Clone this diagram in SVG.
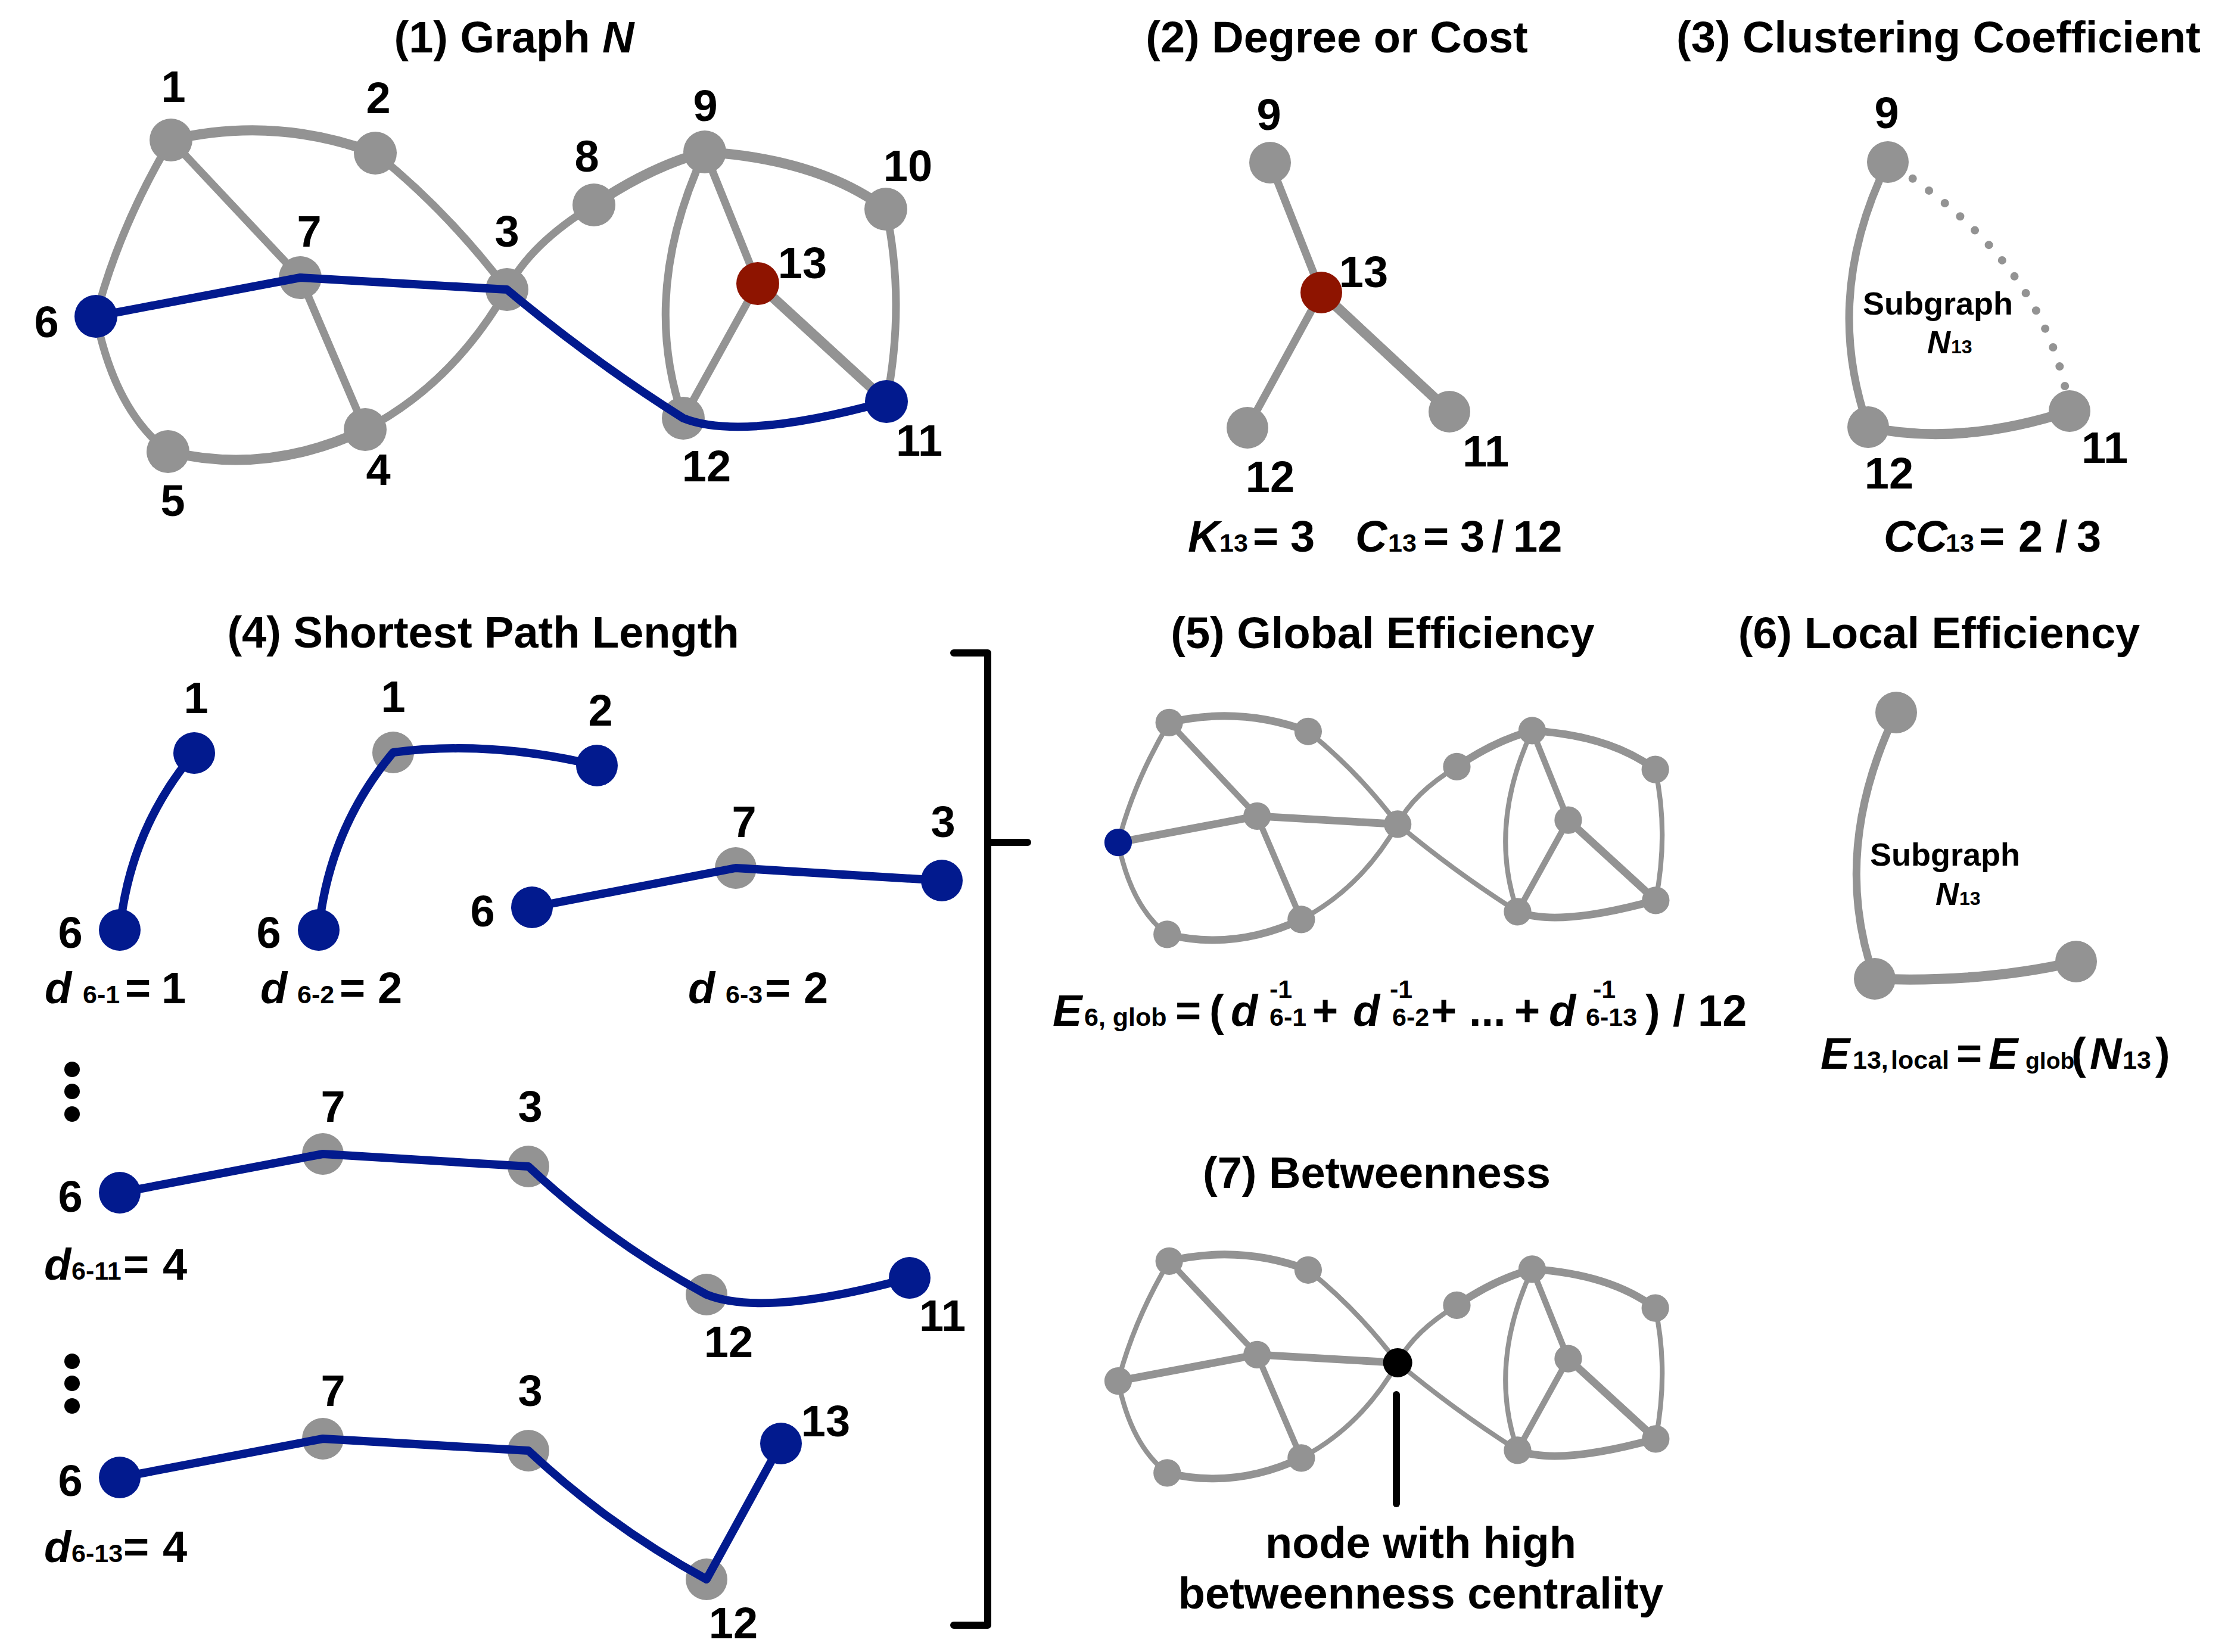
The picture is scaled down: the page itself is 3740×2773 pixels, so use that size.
<svg xmlns="http://www.w3.org/2000/svg" width="3740" height="2773" viewBox="0 0 3740 2773">
<style>
.t{font-family:"Liberation Sans",Arial,Helvetica,sans-serif;font-weight:bold;fill:#000}
.ttl{font-size:74px;text-anchor:middle}
.lbl{font-size:74px;text-anchor:middle}
.f{font-size:74px}
.s{font-size:43px}
.sg{font-size:54px}
.it{font-style:italic}
.e{fill:none;stroke:#939393;stroke-linecap:round}
.w1{stroke-width:13}
.w2{stroke-width:17}
.v1{stroke-width:12}
.v2{stroke-width:15}
.v3{stroke-width:19}
.bp{fill:none;stroke:#021A8E;stroke-width:14;stroke-linejoin:round;stroke-linecap:round}
.g{fill:#939393}
.b{fill:#021A8E}
.r{fill:#8E1400}
.k{fill:#000}
.br{fill:none;stroke:#000;stroke-width:12;stroke-linecap:round;stroke-linejoin:round}
</style>
<defs>
<g id="sg-edges" class="e">
<path class="v3" d="M287,235 Q461.5,194 630,257"/>
<path class="v1" d="M630,257 Q751.5,354.5 851,486"/>
<path class="v1" d="M287,235 Q200,381 161,531"/>
<path class="v2" d="M287,235 L504,466"/>
<path class="v2" d="M504,466 L613,721"/>
<path class="v1" d="M161,531 Q192.5,689.5 282,758"/>
<path class="v3" d="M282,758 Q448.5,798.5 613,721"/>
<path class="v1" d="M613,721 Q760,644.5 851,486"/>
<path class="v1" d="M851,486 Q890,409 997,344"/>
<path class="v3" d="M997,344 Q1090,280.5 1183,255"/>
<path class="v3" d="M1183,255 Q1375,267 1487,351"/>
<path class="v1" d="M1487,351 Q1520.5,507.5 1488,674"/>
<path class="v1" d="M1183,255 Q1073,491.5 1147,702"/>
<path class="v2" d="M1183,255 L1272,476"/>
<path class="v2" d="M1272,476 L1147,702"/>
<path class="v3" d="M1272,476 L1488,674"/>
<path class="v3" d="M161,531 L504,466"/>
<path class="v3" d="M504,466 L851,486"/>
<path class="v1" d="M851,486 Q992,604 1147,702"/>
<path class="v3" d="M1147,702 Q1245,741 1488,674"/>
</g>
</defs>
<rect width="3740" height="2773" fill="#fff"/>

<!-- Panel 1 -->
<text class="t ttl" x="863" y="88">(1) Graph <tspan class="it">N</tspan></text>
<g id="p1-edges" class="e">
<path class="w2" d="M287,235 Q461.5,194 630,257"/>
<path class="w1" d="M630,257 Q751.5,354.5 851,486"/>
<path class="w1" d="M287,235 Q200,381 161,531"/>
<path class="w1" d="M287,235 L504,466"/>
<path class="w1" d="M504,466 L613,721"/>
<path class="w1" d="M161,531 Q192.5,689.5 282,758"/>
<path class="w2" d="M282,758 Q448.5,798.5 613,721"/>
<path class="w1" d="M613,721 Q760,644.5 851,486"/>
<path class="w1" d="M851,486 Q890,409 997,344"/>
<path class="w2" d="M997,344 Q1090,280.5 1183,255"/>
<path class="w2" d="M1183,255 Q1375,267 1487,351"/>
<path class="w1" d="M1487,351 Q1520.5,507.5 1488,674"/>
<path class="w1" d="M1183,255 Q1073,491.5 1147,702"/>
<path class="w1" d="M1183,255 L1272,476"/>
<path class="w1" d="M1272,476 L1147,702"/>
<path class="w2" d="M1272,476 L1488,674"/>
</g>
<g id="p1-n1"><circle class="g" cx="287" cy="235" r="36"/><text class="t lbl" x="291" y="171">1</text></g>
<g id="p1-n2"><circle class="g" cx="630" cy="257" r="36"/><text class="t lbl" x="635" y="190">2</text></g>
<g id="p1-n3"><circle class="g" cx="851" cy="486" r="36"/><text class="t lbl" x="851" y="414">3</text></g>
<g id="p1-n4"><circle class="g" cx="613" cy="721" r="36"/><text class="t lbl" x="635" y="814">4</text></g>
<g id="p1-n5"><circle class="g" cx="282" cy="758" r="36"/><text class="t lbl" x="290" y="866">5</text></g>
<g id="p1-n7"><circle class="g" cx="504" cy="466" r="36"/><text class="t lbl" x="519" y="414">7</text></g>
<g id="p1-n8"><circle class="g" cx="997" cy="344" r="36"/><text class="t lbl" x="985" y="288">8</text></g>
<g id="p1-n9"><circle class="g" cx="1183" cy="255" r="36"/><text class="t lbl" x="1184" y="203">9</text></g>
<g id="p1-n10"><circle class="g" cx="1487" cy="351" r="36"/><text class="t lbl" x="1524" y="304">10</text></g>
<g id="p1-n12"><circle class="g" cx="1147" cy="702" r="36"/><text class="t lbl" x="1186" y="808">12</text></g>
<g id="p1-path" class="bp"><path d="M161,531 L504,466 L851,486 Q992,604 1147,702 Q1245,741 1488,674"/></g>
<g id="p1-n6"><circle class="b" cx="161" cy="531" r="36"/><text class="t lbl" x="78" y="566">6</text></g>
<g id="p1-n11"><circle class="b" cx="1488" cy="674" r="36"/><text class="t lbl" x="1543" y="765">11</text></g>
<g id="p1-n13"><circle class="r" cx="1272" cy="476" r="36"/><text class="t lbl" x="1347" y="467">13</text></g>

<!-- Panel 2 -->
<text class="t ttl" x="2244" y="88">(2) Degree or Cost</text>
<g id="p2-edges" class="e">
<path class="w1" d="M2132,273 L2218,491"/>
<path class="w1" d="M2218,491 L2094,718"/>
<path class="w2" d="M2218,491 L2433,691"/>
</g>
<g id="p2-n9"><circle class="g" cx="2132" cy="273" r="35"/><text class="t lbl" x="2130" y="218">9</text></g>
<g id="p2-n12"><circle class="g" cx="2094" cy="718" r="35"/><text class="t lbl" x="2132" y="826">12</text></g>
<g id="p2-n11"><circle class="g" cx="2433" cy="691" r="35"/><text class="t lbl" x="2494" y="783">11</text></g>
<g id="p2-n13"><circle class="r" cx="2218" cy="491" r="35"/><text class="t lbl" x="2289" y="482">13</text></g>
<text class="t f" y="926"><tspan class="it" x="1994">K</tspan><tspan class="s" x="2047">13</tspan><tspan x="2103">=</tspan><tspan x="2166">3</tspan><tspan class="it" x="2275">C</tspan><tspan class="s" x="2330">13</tspan><tspan x="2389">=</tspan><tspan x="2451">3</tspan><tspan x="2504">/</tspan><tspan x="2540">12</tspan></text>

<!-- Panel 3 -->
<text class="t ttl" x="3254" y="88">(3) Clustering Coefficient</text>
<g id="p3-edges" class="e">
<path class="w1" d="M3169,272 Q3058.5,497 3136,717"/>
<path class="w2" d="M3136,717 Q3289,750 3474,690"/>
<path d="M3169,272 Q3438.5,442.5 3474,690" stroke-width="14" stroke-dasharray="0 34" stroke-dashoffset="18"/>
</g>
<g id="p3-n9"><circle class="g" cx="3169" cy="272" r="35"/><text class="t lbl" x="3167" y="215">9</text></g>
<g id="p3-n12"><circle class="g" cx="3136" cy="717" r="35"/><text class="t lbl" x="3171" y="820">12</text></g>
<g id="p3-n11"><circle class="g" cx="3474" cy="690" r="35"/><text class="t lbl" x="3533" y="777">11</text></g>
<text class="t sg" x="3253" y="528" text-anchor="middle">Subgraph</text>
<text class="t" y="593"><tspan class="it sg" x="3235">N</tspan><tspan x="3275" font-size="32">13</tspan></text>
<text class="t f" y="926"><tspan class="it" x="3162">CC</tspan><tspan class="s" x="3266">13</tspan><tspan x="3322">=</tspan><tspan x="3388">2</tspan><tspan x="3450">/</tspan><tspan x="3486">3</tspan></text>

<!-- Panel 4 -->
<text class="t ttl" x="811" y="1087">(4) Shortest Path Length</text>
<g id="p4-gray-nodes">
<circle id="p4b-n1" class="g" cx="660" cy="1263" r="35"/>
<circle id="p4c-n7" class="g" cx="1235" cy="1457" r="35"/>
<circle id="p4d-n7" class="g" cx="542" cy="1937" r="35"/>
<circle id="p4d-n3" class="g" cx="887" cy="1958" r="35"/>
<circle id="p4d-n12" class="g" cx="1186" cy="2173" r="35"/>
<circle id="p4e-n7" class="g" cx="542" cy="2415" r="35"/>
<circle id="p4e-n3" class="g" cx="887" cy="2435" r="35"/>
<circle id="p4e-n12" class="g" cx="1186" cy="2651" r="35"/>
</g>
<g id="p4-paths" class="bp">
<path d="M201,1561 Q218.5,1391.5 326,1264"/>
<path d="M535,1561 Q552.5,1391 660,1263 Q823,1242 1002,1285"/>
<path d="M893,1523 L1235,1457 L1581,1478"/>
<path d="M201,2002 L542,1937 L887,1958 Q1022.5,2085 1186,2173 Q1284,2212 1527,2145"/>
<path d="M201,2480 L542,2415 L887,2435 Q1022.5,2562 1186,2651 L1311,2423"/>
</g>
<g id="p4-blue-nodes">
<circle id="p4a-n6" class="b" cx="201" cy="1561" r="35"/>
<circle id="p4a-n1" class="b" cx="326" cy="1264" r="35"/>
<circle id="p4b-n6" class="b" cx="535" cy="1561" r="35"/>
<circle id="p4b-n2" class="b" cx="1002" cy="1285" r="35"/>
<circle id="p4c-n6" class="b" cx="893" cy="1523" r="35"/>
<circle id="p4c-n3" class="b" cx="1581" cy="1478" r="35"/>
<circle id="p4d-n6" class="b" cx="201" cy="2002" r="35"/>
<circle id="p4d-n11" class="b" cx="1527" cy="2145" r="35"/>
<circle id="p4e-n6" class="b" cx="201" cy="2480" r="35"/>
<circle id="p4e-n13" class="b" cx="1311" cy="2423" r="35"/>
</g>
<g id="p4-labels" class="t lbl">
<text x="329" y="1197">1</text>
<text x="118" y="1591">6</text>
<text x="660" y="1195">1</text>
<text x="1008" y="1218">2</text>
<text x="451" y="1591">6</text>
<text x="1249" y="1405">7</text>
<text x="1583" y="1405">3</text>
<text x="810" y="1555">6</text>
<text x="559" y="1883">7</text>
<text x="890" y="1883">3</text>
<text x="118" y="2034">6</text>
<text x="1223" y="2278">12</text>
<text x="1582" y="2234">11</text>
<text x="559" y="2360">7</text>
<text x="890" y="2360">3</text>
<text x="118" y="2511">6</text>
<text x="1231" y="2750">12</text>
<text x="1386" y="2411">13</text>
</g>
<text class="t f" y="1684"><tspan class="it" x="75">d</tspan><tspan class="s" x="139">6-1</tspan><tspan x="210">=</tspan><tspan x="271">1</tspan></text>
<text class="t f" y="1684"><tspan class="it" x="437">d</tspan><tspan class="s" x="499">6-2</tspan><tspan x="570">=</tspan><tspan x="634">2</tspan></text>
<text class="t f" y="1684"><tspan class="it" x="1155">d</tspan><tspan class="s" x="1218">6-3</tspan><tspan x="1284">=</tspan><tspan x="1349">2</tspan></text>
<text class="t f" y="2148"><tspan class="it" x="74">d</tspan><tspan class="s" x="120">6-11</tspan><tspan x="207">=</tspan><tspan x="273">4</tspan></text>
<text class="t f" y="2622"><tspan class="it" x="74">d</tspan><tspan class="s" x="120">6-13</tspan><tspan x="207">=</tspan><tspan x="273">4</tspan></text>
<g id="p4-dots" class="k">
<circle cx="121" cy="1795" r="13"/><circle cx="121" cy="1832" r="13"/><circle cx="121" cy="1870" r="13"/>
<circle cx="121" cy="2285" r="13"/><circle cx="121" cy="2322" r="13"/><circle cx="121" cy="2360" r="13"/>
</g>
<g id="bracket"><path class="br" d="M1601,1096 H1658 V2728 H1601 M1658,1414 H1725"/></g>

<!-- Panel 5 -->
<text class="t ttl" x="2321" y="1088">(5) Global Efficiency</text>
<g id="p5-graph" transform="translate(1767.5,1053) scale(0.68)">
<g id="p5-edges"><use href="#sg-edges"/></g>
<g id="p5-n1"><circle class="g" cx="287" cy="235" r="34"/></g>
<g id="p5-n2"><circle class="g" cx="630" cy="257" r="34"/></g>
<g id="p5-n3"><circle class="g" cx="851" cy="486" r="34"/></g>
<g id="p5-n4"><circle class="g" cx="613" cy="721" r="34"/></g>
<g id="p5-n5"><circle class="g" cx="282" cy="758" r="34"/></g>
<g id="p5-n6"><circle class="b" cx="161" cy="531" r="34"/></g>
<g id="p5-n7"><circle class="g" cx="504" cy="466" r="34"/></g>
<g id="p5-n8"><circle class="g" cx="997" cy="344" r="34"/></g>
<g id="p5-n9"><circle class="g" cx="1183" cy="255" r="34"/></g>
<g id="p5-n10"><circle class="g" cx="1487" cy="351" r="34"/></g>
<g id="p5-n11"><circle class="g" cx="1488" cy="674" r="34"/></g>
<g id="p5-n12"><circle class="g" cx="1147" cy="702" r="34"/></g>
<g id="p5-n13"><circle class="g" cx="1272" cy="476" r="34"/></g>
</g>
<text class="t f" y="1722"><tspan class="it" x="1767">E</tspan><tspan class="s" x="1820">6, glob</tspan><tspan x="1973">=</tspan><tspan x="2030">(</tspan><tspan class="it" x="2066">d</tspan><tspan class="s" x="2131">6-1</tspan><tspan x="2203">+</tspan><tspan class="it" x="2271">d</tspan><tspan class="s" x="2337">6-2</tspan><tspan x="2402">+</tspan><tspan x="2466">...</tspan><tspan x="2542">+</tspan><tspan class="it" x="2600">d</tspan><tspan class="s" x="2662">6-13</tspan><tspan x="2762">)</tspan><tspan x="2808">/</tspan><tspan x="2850">12</tspan></text>
<text class="t s" y="1675"><tspan x="2131">-1</tspan><tspan x="2333">-1</tspan><tspan x="2674">-1</tspan></text>

<!-- Panel 6 -->
<text class="t ttl" x="3255" y="1088">(6) Local Efficiency</text>
<g id="p6-edges" class="e">
<path class="w1" d="M3183,1196 Q3071,1430 3147,1643"/>
<path class="w2" d="M3147,1643 Q3330,1650 3485,1614"/>
</g>
<g id="p6-n9"><circle class="g" cx="3183" cy="1196" r="35"/></g>
<g id="p6-n12"><circle class="g" cx="3147" cy="1643" r="35"/></g>
<g id="p6-n11"><circle class="g" cx="3485" cy="1614" r="35"/></g>
<text class="t sg" x="3265" y="1453" text-anchor="middle">Subgraph</text>
<text class="t" y="1519"><tspan class="it sg" x="3249">N</tspan><tspan x="3289" font-size="32">13</tspan></text>
<text class="t f" y="1794"><tspan class="it" x="3056">E</tspan><tspan class="s" x="3110">13,</tspan><tspan class="s" x="3174">local</tspan><tspan x="3284">=</tspan><tspan class="it" x="3338">E</tspan><tspan x="3400" font-size="39">glob</tspan><tspan x="3477">(</tspan><tspan class="it" x="3508">N</tspan><tspan class="s" x="3563">13</tspan><tspan x="3618">)</tspan></text>

<!-- Panel 7 -->
<text class="t ttl" x="2311" y="1994">(7) Betweenness</text>
<g id="p7-graph" transform="translate(1767.5,1957) scale(0.68)">
<g id="p7-edges"><use href="#sg-edges"/></g>
<g id="p7-n1"><circle class="g" cx="287" cy="235" r="34"/></g>
<g id="p7-n2"><circle class="g" cx="630" cy="257" r="34"/></g>
<g id="p7-n4"><circle class="g" cx="613" cy="721" r="34"/></g>
<g id="p7-n5"><circle class="g" cx="282" cy="758" r="34"/></g>
<g id="p7-n6"><circle class="g" cx="161" cy="531" r="34"/></g>
<g id="p7-n7"><circle class="g" cx="504" cy="466" r="34"/></g>
<g id="p7-n8"><circle class="g" cx="997" cy="344" r="34"/></g>
<g id="p7-n9"><circle class="g" cx="1183" cy="255" r="34"/></g>
<g id="p7-n10"><circle class="g" cx="1487" cy="351" r="34"/></g>
<g id="p7-n11"><circle class="g" cx="1488" cy="674" r="34"/></g>
<g id="p7-n12"><circle class="g" cx="1147" cy="702" r="34"/></g>
<g id="p7-n13"><circle class="g" cx="1272" cy="476" r="34"/></g>
<g id="p7-n3"><circle class="k" cx="851" cy="486" r="36"/></g>
</g>
<g id="p7-pointer"><line x1="2344" y1="2341" x2="2344" y2="2524" stroke="#000" stroke-width="12" stroke-linecap="round"/></g>
<text class="t f" x="2385" y="2615" text-anchor="middle">node with high</text>
<text class="t f" x="2385" y="2700" text-anchor="middle">betweenness centrality</text>
</svg>
